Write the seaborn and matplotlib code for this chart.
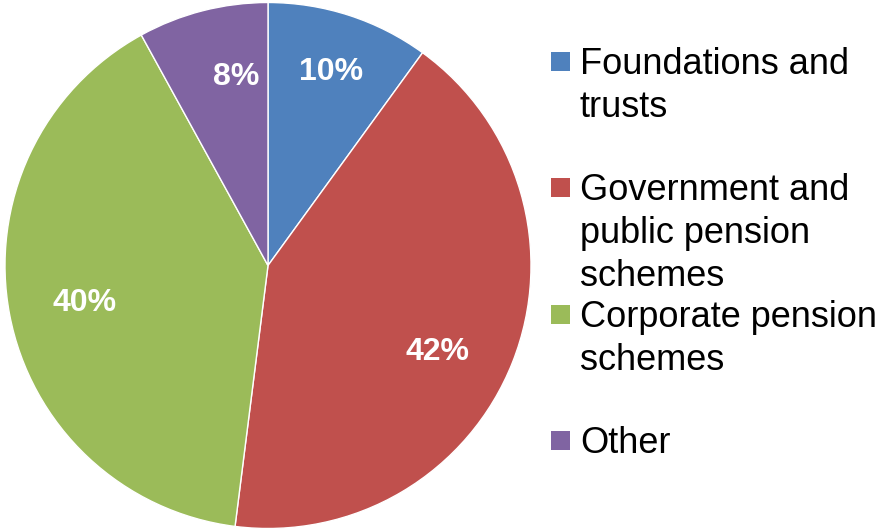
import matplotlib
matplotlib.use("Agg")
import matplotlib.pyplot as plt
from matplotlib.patches import Rectangle
import numpy as np
import seaborn as sns

# Investor categories and their shares (percent)
categories = [
    "Foundations and\ntrusts",
    "Government and\npublic pension\nschemes",
    "Corporate pension\nschemes",
    "Other",
]
shares = [10, 42, 40, 8]
slice_colors = ["#4F81BD", "#C0504D", "#9BBB59", "#8064A2"]

sns.set_theme(style="white")
plt.rcParams["font.family"] = ["Liberation Sans", "DejaVu Sans"]

W, H = 887, 530
fig = plt.figure(figsize=(W / 100, H / 100), dpi=100)

# pie centred at (268, 265.5) px with a 263 px radius
cx, cy, R = 268, 265.5, 263
ax = fig.add_axes([(cx - R) / W, (H - cy - R) / H, 2 * R / W, 2 * R / H])
palette = sns.color_palette(slice_colors)
wedges, _ = ax.pie(
    shares,
    colors=palette,
    startangle=90,
    counterclock=False,
    wedgeprops=dict(edgecolor="white", linewidth=1.0),
)
ax.set_xlim(-1, 1)
ax.set_ylim(-1, 1)
ax.set_aspect("equal")
ax.axis("off")
for w in wedges:
    w.set_clip_on(False)

# percentage labels inside the slices
label_r = [0.78, 0.72, 0.71, 0.73]
label_dtheta = [0, -5, 0.5, -5]
for w, v, r, dt in zip(wedges, shares, label_r, label_dtheta):
    mid = np.deg2rad((w.theta1 + w.theta2) / 2 + dt)
    ax.text(r * np.cos(mid), r * np.sin(mid) - 0.005, f"{v}%", ha="center", va="center",
            color="white", fontsize=23, fontweight="bold")

# legend drawn on the right side
first_baselines = [74, 200, 327, 453]
line_step = 43
for cat, col, base in zip(categories, palette, first_baselines):
    sq = 19
    ycen = base - 13
    fig.patches.append(Rectangle((551 / W, (H - ycen - sq / 2) / H), sq / W, sq / H,
                                 transform=fig.transFigure, facecolor=col,
                                 edgecolor="none"))
    for i, line in enumerate(cat.split("\n")):
        fig.text(580 / W, (H - (base + i * line_step)) / H, line, ha="left",
                 va="baseline", fontsize=26, color="black")

fig.savefig("out.png", dpi=100)
